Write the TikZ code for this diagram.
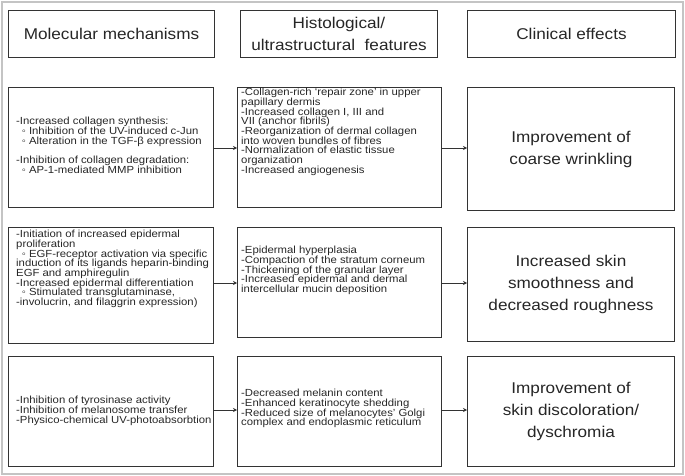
\documentclass[tikz,border=0pt]{standalone}
\usepackage{fontspec}
\setmainfont{Liberation Sans}
\newfontfamily\wideSans[FakeStretch=1.1]{Liberation Sans}
\usetikzlibrary{arrows.meta}
\definecolor{boxc}{HTML}{333333}
\definecolor{txtc}{HTML}{262626}
\definecolor{framec}{HTML}{C4C4C4}
\newcommand{\hdrfont}{\wideSans\fontsize{15.6}{22}\selectfont}
\newcommand{\bodyfont}{\wideSans\fontsize{10.3}{9.7}\selectfont}
\newcommand{\cir}{\hspace*{0.55em}◦\ }
\tikzset{
  box/.style={draw=boxc, line width=1pt, inner sep=0pt, anchor=north west, text=txtc},
  hdr/.style={box, font=\hdrfont, align=center},
  body/.style={font=\bodyfont, align=left, inner sep=0pt, anchor=north west, text=txtc},
  arr/.style={draw=boxc, line width=0.9pt, -{Stealth[length=4pt,width=4pt]}}
}
\begin{document}
\begin{tikzpicture}[x=1pt,y=-1pt]
\useasboundingbox (0,0) rectangle (685,476);
\draw[framec, line width=2pt] (2,2) rectangle (683,474);
% headers
\node[hdr, minimum width=206pt, minimum height=47pt] (H1) at (8,10) {Molecular mechanisms};
\node[hdr, minimum width=197pt, minimum height=47pt] (H2) at (240,10) {Histological/\\ultrastructural\ \ features};
\node[hdr, minimum width=208pt, minimum height=47pt] (H3) at (467,10) {Clinical effects};
% row 1
\node[box, minimum width=205pt, minimum height=120pt] (L1) at (8,87) {};
\node[body] (L1t) at (16,117) {-Increased collagen synthesis:\\
\cir Inhibition of the UV-induced c-Jun\\
\cir Alteration in the TGF-β expression\\[9.7pt]
-Inhibition of collagen degradation:\\
\cir AP-1-mediated MMP inhibition};
\node[box, minimum width=204pt, minimum height=120pt] (M1) at (237,87) {};
\node[body] (M1t) at (241,88) {-Collagen-rich ‘repair zone’ in upper\\
papillary dermis\\
-Increased collagen I, III and\\
VII (anchor fibrils)\\
-Reorganization of dermal collagen\\
into woven bundles of fibres\\
-Normalization of elastic tissue\\
organization\\
-Increased angiogenesis};
\node[box, font=\hdrfont, align=center, minimum width=207pt, minimum height=123pt] (R1) at (467,87) {Improvement of\\coarse wrinkling};
% row 2
\node[box, minimum width=205pt, minimum height=116pt] (L2) at (8,227) {};
\node[body] (L2t) at (16,230) {-Initiation of increased epidermal\\
proliferation\\
\cir EGF-receptor activation via specific\\
induction of its ligands heparin-binding\\
EGF and amphiregulin\\
-Increased epidermal differentiation\\
\cir Stimulated transglutaminase,\\
-involucrin, and filaggrin expression)};
\node[box, minimum width=204pt, minimum height=110pt] (M2) at (237,227) {};
\node[body] (M2t) at (241,246) {-Epidermal hyperplasia\\
-Compaction of the stratum corneum\\
-Thickening of the granular layer\\
-Increased epidermal and dermal\\
intercellular mucin deposition};
\node[box, font=\hdrfont, align=center, minimum width=207pt, minimum height=114pt] (R2) at (467,227) {Increased skin\\smoothness and\\decreased roughness};
% row 3
\node[box, minimum width=205pt, minimum height=110pt] (L3) at (8,356) {};
\node[body] (L3t) at (16,396) {-Inhibition of tyrosinase activity\\
-Inhibition of melanosome transfer\\
-Physico-chemical UV-photoabsorbtion};
\node[box, minimum width=204pt, minimum height=110pt] (M3) at (237,356) {};
\node[body] (M3t) at (241,389) {-Decreased melanin content\\
-Enhanced keratinocyte shedding\\
-Reduced size of melanocytes’ Golgi\\
complex and endoplasmic reticulum};
\node[box, font=\hdrfont, align=center, minimum width=207pt, minimum height=110pt] (R3) at (467,356) {Improvement of\\skin discoloration/\\dyschromia};
% arrows
\coordinate (a1) at (0,148);
\coordinate (a2) at (0,283);
\coordinate (a3) at (0,410);
\draw[arr] (L1.east |- a1) -- (M1.west |- a1);
\draw[arr] (M1.east |- a1) -- (R1.west |- a1);
\draw[arr] (L2.east |- a2) -- (M2.west |- a2);
\draw[arr] (M2.east |- a2) -- (R2.west |- a2);
\draw[arr] (L3.east |- a3) -- (M3.west |- a3);
\draw[arr] (M3.east |- a3) -- (R3.west |- a3);
\end{tikzpicture}
\end{document}
